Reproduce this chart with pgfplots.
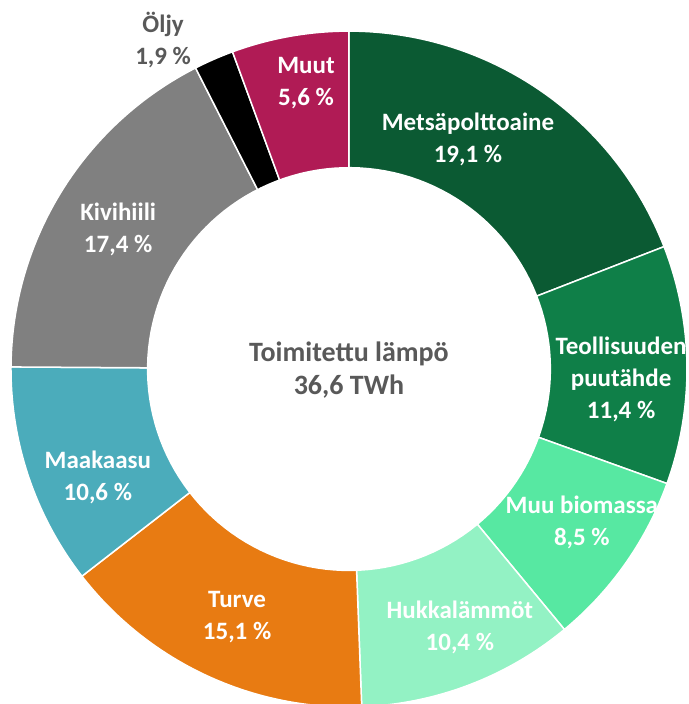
\documentclass[border=0pt]{standalone}
\usepackage{pgfplots}
\pgfplotsset{compat=1.18}
\usepackage{fontspec}
\setmainfont{Carlito}
\definecolor{cMets}{HTML}{0B5A33}
\definecolor{cTeol}{HTML}{0F7F48}
\definecolor{cMuub}{HTML}{57E8A2}
\definecolor{cHukk}{HTML}{93F2C4}
\definecolor{cTurv}{HTML}{E87B12}
\definecolor{cMaak}{HTML}{4BACBB}
\definecolor{cKivi}{HTML}{808080}
\definecolor{cOljy}{HTML}{000000}
\definecolor{cMuut}{HTML}{B01B55}
\definecolor{cGray}{HTML}{595959}
\tikzset{lab/.style={font=\bfseries\fontsize{25}{32}\selectfont, text=white, align=center}}
% start (cumulative %), value (%), colour
\newcommand{\slice}[3]{%
  \addplot[fill=#3, draw=white, line width=1.5pt, domain=90-3.6*(#1+#2):90-3.6*#1, samples=90]
    ({cos(x)},{sin(x)}) -- (axis cs:0,0) -- cycle;
}
\begin{document}
\begin{tikzpicture}
\begin{axis}[
  scale only axis, width=688pt, height=704pt,
  xmin=-1.0325, xmax=1.003, ymin=-0.991, ymax=1.092,
  hide axis, clip=false,
]
\slice{0}{19.1}{cMets}
\slice{19.1}{11.4}{cTeol}
\slice{30.5}{8.5}{cMuub}
\slice{39.0}{10.4}{cHukk}
\slice{49.4}{15.1}{cTurv}
\slice{64.5}{10.6}{cMaak}
\slice{75.1}{17.4}{cKivi}
\slice{92.5}{1.9}{cOljy}
\slice{94.4}{5.6}{cMuut}
\addplot[fill=white, draw=none, domain=0:360, samples=150] ({0.598*cos(x)},{0.598*sin(x)}) -- cycle;
\node[lab] at (axis cs:0.352,0.678) {Metsäpolttoaine\\19,1 \%};
\node[lab] at (axis cs:0.805,-0.030) {Teollisuuden\\puutähde\\11,4 \%};
\node[lab] at (axis cs:0.689,-0.453) {Muu biomassa\\8,5 \%};
\node[lab] at (axis cs:0.328,-0.765) {Hukkalämmöt\\10,4 \%};
\node[lab] at (axis cs:-0.331,-0.734) {Turve\\15,1 \%};
\node[lab] at (axis cs:-0.743,-0.322) {Maakaasu\\10,6 \%};
\node[lab] at (axis cs:-0.683,0.414) {Kivihiili\\17,4 \%};
\node[lab, text=cGray] at (axis cs:-0.550,0.973) {Öljy\\1,9 \%};
\node[lab] at (axis cs:-0.127,0.846) {Muut\\5,6 \%};
\node[lab, text=cGray, font=\bfseries\fontsize{28}{33}\selectfont] at (axis cs:0,-0.003) {Toimitettu lämpö\\36,6 TWh};
\end{axis}
\pgfresetboundingbox
\path[use as bounding box] (current axis.south west) rectangle (current axis.north east);
\end{tikzpicture}
\end{document}
